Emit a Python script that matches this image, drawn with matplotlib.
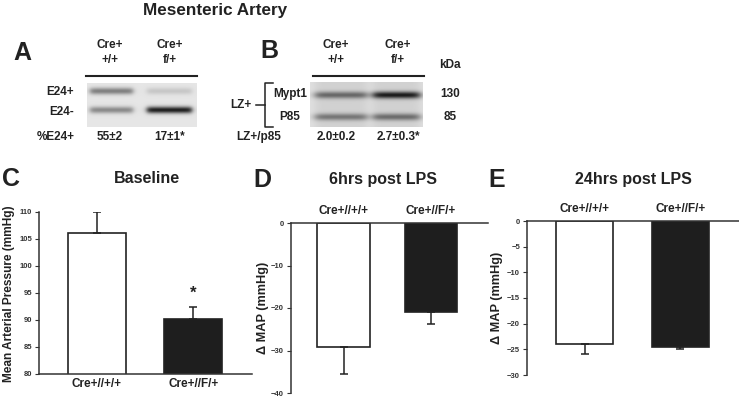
import numpy as np
import matplotlib
matplotlib.use('Agg')
import matplotlib.pyplot as plt
from matplotlib.lines import Line2D

plt.rcParams['font.family'] = ['Liberation Sans', 'DejaVu Sans']
plt.rcParams['font.weight'] = 'bold'

# bar data
groups = ['Cre+//+/+', 'Cre+//F/+']
baseline_map = [106.1, 90.2]
baseline_sem = [3.9, 2.2]
lps6_dmap = [-29.2, -20.9]
lps6_sem = [6.3, 2.9]
lps24_dmap = [-24.0, -24.6]
lps24_sem = [1.9, 0.3]

# blot annotations
lane_top = ['Cre+', 'Cre+']
lane_bottom = ['+/+', 'f/+']
e24_pct = ['55±2', '17±1*']
lz_ratio = ['2.0±0.2', '2.7±0.3*']
kda = ['130', '85']

# band darkness per row (rows x lanes), just for the gel pictures
a_dark = [[0.40, 0.12], [0.36, 0.78]]
b_dark = [[0.42, 0.72], [0.36, 0.40]]

W, H = 739, 400
fig = plt.figure(figsize=(W / 100, H / 100), dpi=100)
ink = '#222222'


def fx(x):
    return x / W


def fy(y):
    return 1 - y / H


def px_axes(x0, y0, x1, y1):
    return fig.add_axes([fx(x0), fy(y1), (x1 - x0) / W, (y1 - y0) / H])


def ftext(x, y, s, size=8.5, ha='center', va='center', **kw):
    fig.text(fx(x), fy(y), s, fontsize=size, ha=ha, va=va, color=ink, **kw)


def fline(xs, ys, lw=1.5):
    fig.add_artist(Line2D([fx(v) for v in xs], [fy(v) for v in ys], color=ink, lw=lw))


def make_blot(w, h, lanes, rows, dark, bg=0.9, sigma=3.0, edge=1.5, haze=0.0):
    xs = np.linspace(0, w, w * 4)
    ys = np.linspace(0, h, h * 4)
    X, Y = np.meshgrid(xs, ys)
    img = np.full(X.shape, bg)
    for j, (l0, l1) in enumerate(lanes):
        lane = 1 / (1 + np.exp(-(X - l0) / edge)) / (1 + np.exp((X - l1) / edge))
        img -= haze * lane
        for i, yc in enumerate(rows):
            img -= dark[i][j] * lane * np.exp(-((Y - yc) / sigma) ** 2)
    return np.clip(img, 0, 1)


def blot_axes(x0, y0, x1, y1, img):
    ax = px_axes(x0, y0, x1, y1)
    ax.imshow(img, cmap='gray', vmin=0, vmax=1, aspect='auto', interpolation='bilinear')
    ax.axis('off')


# ---- top title
ftext(215, 11, 'Mesenteric Artery', size=12.3)

# ---- panel A
ftext(22, 53, 'A', size=18)
for cx, t, b, v in zip([110, 170], lane_top, lane_bottom, e24_pct):
    ftext(cx, 45, t)
    ftext(cx, 60, b)
    ftext(cx, 137, v)
fline([86, 197], [76, 76])
blot_axes(87, 83, 197, 127,
          make_blot(110, 44, [(3, 46), (60, 105)], [8, 27], a_dark, bg=0.9, sigma=3.4))
ftext(74, 92, 'E24+', ha='right')
ftext(74, 112, 'E24-', ha='right')
ftext(75, 137, '%E24+', ha='right')

# ---- panel B
ftext(269, 51, 'B', size=18)
for cx, t, b, v in zip([336, 398], lane_top, lane_bottom, lz_ratio):
    ftext(cx, 45, t)
    ftext(cx, 60, b)
    ftext(cx, 137, v)
fline([313, 424], [76, 76])
blot_axes(310, 82, 423, 127,
          make_blot(113, 45, [(5, 57), (63, 110)], [13, 35], b_dark, bg=0.88,
                    sigma=3.5, edge=2.5, haze=0.06))
ftext(450, 65, 'kDa')
ftext(450, 94, kda[0])
ftext(450, 117, kda[1])
ftext(290, 94, 'Mypt1')
ftext(290, 117, 'P85')
ftext(241, 105, 'LZ+')
fline([273, 265, 265, 273], [83, 83, 127, 127], lw=1.1)
fline([256, 265], [105, 105], lw=1.1)
ftext(259, 137, 'LZ+/p85')

# ---- bar panels
colors = ['white', '#1e1e1e']


def style(ax):
    for s in ax.spines.values():
        s.set_color('#333333')
        s.set_linewidth(1.1)
    ax.tick_params(axis='y', length=3, width=0.8, labelsize=5.5, pad=2, colors='#333333')
    ax.tick_params(axis='x', length=0, labelsize=8.5, colors=ink)
    ax.patch.set_alpha(0)


def bars(ax, vals, errs, up):
    x = np.arange(len(vals))
    ax.bar(x, vals, width=0.6, color=colors, edgecolor=ink, linewidth=1.2, zorder=2)
    zeros = [0] * len(errs)
    yerr = [zeros, errs] if up else [errs, zeros]
    ax.errorbar(x, vals, yerr=yerr, fmt='none', ecolor=ink, elinewidth=1.1,
                capsize=3, capthick=1.1, zorder=3)
    ax.set_xticks(x)
    ax.set_xticklabels(groups)


# C: baseline
axc = px_axes(39, 212, 252, 374)
bars(axc, baseline_map, baseline_sem, up=True)
axc.set_ylim(80, 110)
axc.set_yticks(range(80, 111, 5))
axc.set_xlim(-0.60, 1.61)
axc.spines[['top', 'right']].set_visible(False)
style(axc)
axc.tick_params(axis='x', pad=3)
axc.text(1, baseline_map[1] + baseline_sem[1] + 2.5, '*', ha='center', va='center',
         fontsize=12, color=ink)
ftext(11, 179, 'C', size=18)
ftext(147, 178, 'Baseline', size=11.5)
ftext(9, 294, 'Mean Arterial Pressure (mmHg)', size=8.6, rotation=90)

# D: 6 hrs
axd = px_axes(291, 223, 488, 393)
bars(axd, lps6_dmap, lps6_sem, up=False)
axd.set_ylim(-40, 0)
axd.set_yticks(range(-40, 1, 10))
axd.set_xlim(-0.60, 1.65)
axd.spines[['bottom', 'right']].set_visible(False)
axd.xaxis.tick_top()
style(axd)
axd.tick_params(axis='x', pad=4)
ftext(262, 180, 'D', size=18)
ftext(383, 180, '6hrs post LPS', size=11.5)
ftext(263, 308, 'Δ MAP (mmHg)', size=9.2, rotation=90)

# E: 24 hrs
axe = px_axes(527, 221, 739, 375)
bars(axe, lps24_dmap, lps24_sem, up=False)
axe.set_ylim(-30, 0)
axe.set_yticks(range(-30, 1, 5))
axe.set_xlim(-0.60, 1.61)
axe.spines[['bottom', 'right']].set_visible(False)
axe.xaxis.tick_top()
style(axe)
axe.tick_params(axis='x', pad=4)
ftext(497, 180, 'E', size=18)
ftext(633, 180, '24hrs post LPS', size=11.5)
ftext(497, 298, 'Δ MAP (mmHg)', size=9.2, rotation=90)

fig.savefig('out.png', dpi=100)
